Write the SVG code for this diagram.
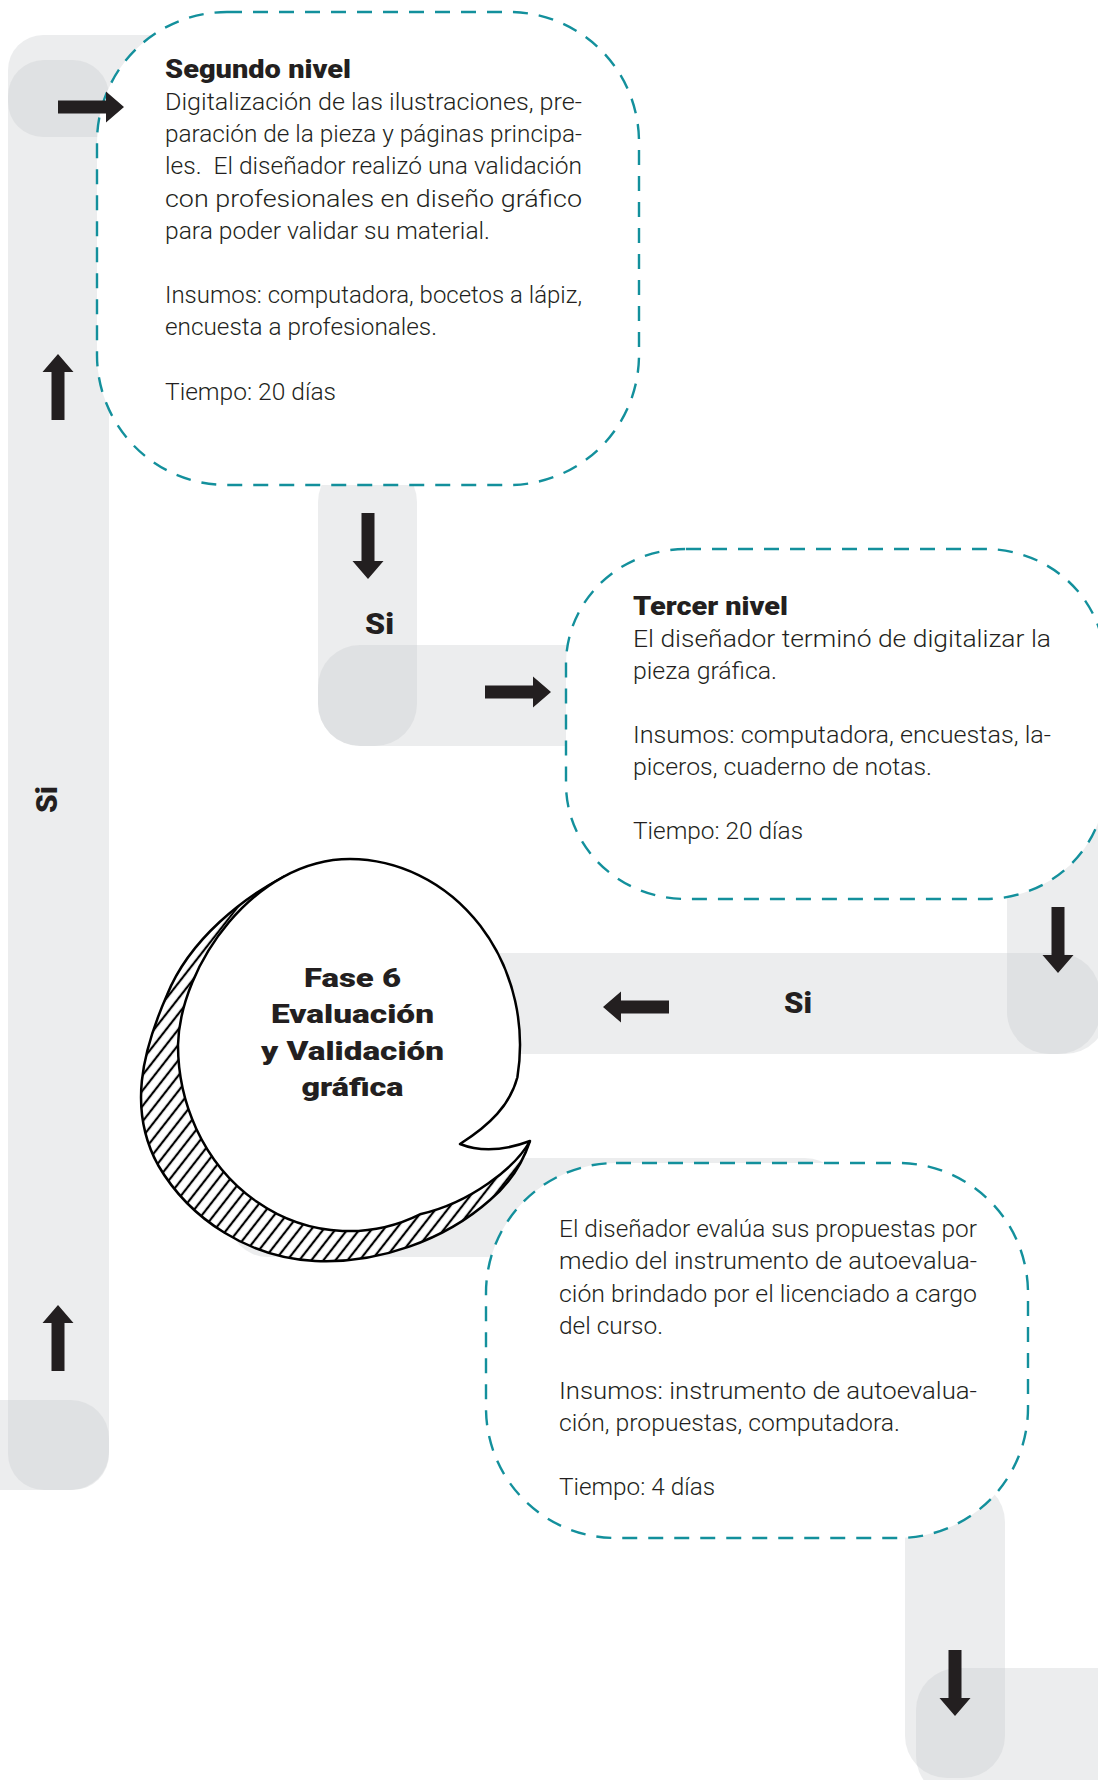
<svg xmlns="http://www.w3.org/2000/svg" width="1098" height="1780" viewBox="0 0 1098 1780">
<defs>
<style>
.bar{fill:rgb(201,202,205);fill-opacity:0.35}
.box{fill:#fff;stroke:#13909c;stroke-width:2.4;stroke-dasharray:15 11}
.t{font-family:Roboto,"Liberation Sans",Arial,sans-serif;font-weight:300;font-size:23.5px;fill:#231f20}
.h{font-family:Roboto,"Liberation Sans",Arial,sans-serif;font-weight:900;font-size:25px;fill:#231f20}
.si{font-family:Roboto,"Liberation Sans",Arial,sans-serif;font-weight:900;font-size:29px;fill:#231f20}
.ph{font-family:Roboto,"Liberation Sans",Arial,sans-serif;font-weight:900;font-size:26px;fill:#231f20;text-anchor:middle}
.arr{fill:#231f20}
.ol{fill:none;stroke:#000;stroke-width:2.5;stroke-linejoin:round}
</style>
<path id="arrow" d="M0,0 L-18,-15.5 L-18,-6.5 L-66,-6.5 L-66,6.5 L-18,6.5 L-18,15.5 Z"/>
<pattern id="hatch" patternUnits="userSpaceOnUse" width="9.5" height="9.5" patternTransform="rotate(38)">
<rect width="9.5" height="9.5" fill="#fff"/>
<line x1="4.75" y1="-1" x2="4.75" y2="10.5" stroke="#000" stroke-width="2.2"/>
</pattern>
</defs>
<rect width="1098" height="1780" fill="#fff"/>

<g id="connectors">
<rect class="bar" x="8" y="35" width="300" height="102" rx="35"/>
<rect class="bar" x="8" y="60" width="101" height="1430" rx="36"/>
<rect class="bar" x="-80" y="1400" width="189" height="90" rx="38"/>
<rect class="bar" x="318" y="460" width="99" height="286" rx="42"/>
<rect class="bar" x="318" y="645" width="300" height="101" rx="42"/>
<rect class="bar" x="1007" y="800" width="100" height="254" rx="42"/>
<rect class="bar" x="430" y="953" width="670" height="101" rx="42"/>
<rect class="bar" x="228" y="1158" width="617" height="99" rx="40"/>
<rect class="bar" x="905" y="1480" width="100" height="298" rx="42"/>
<rect class="bar" x="916" y="1668" width="250" height="130" rx="42"/>
</g>

<g id="segundo-nivel">
<rect class="box" x="97" y="12" width="542" height="473" rx="130"/>
<text class="h" x="165" y="78" textLength="186" lengthAdjust="spacingAndGlyphs">Segundo nivel</text>
<text class="t" x="165" y="110" textLength="417" lengthAdjust="spacingAndGlyphs">Digitalización de las ilustraciones, pre-</text>
<text class="t" x="165" y="142.2" textLength="417" lengthAdjust="spacingAndGlyphs">paración de la pieza y páginas principa-</text>
<text class="t" x="165" y="174.4" textLength="417" lengthAdjust="spacingAndGlyphs" xml:space="preserve">les.  El diseñador realizó una validación</text>
<text class="t" x="165" y="206.6" textLength="417" lengthAdjust="spacingAndGlyphs">con profesionales en diseño gráfico</text>
<text class="t" x="165" y="238.8" textLength="325" lengthAdjust="spacingAndGlyphs">para poder validar su material.</text>
<text class="t" x="165" y="303.2" textLength="417" lengthAdjust="spacingAndGlyphs">Insumos: computadora, bocetos a lápiz,</text>
<text class="t" x="165" y="335.4" textLength="272" lengthAdjust="spacingAndGlyphs">encuesta a profesionales.</text>
<text class="t" x="165" y="399.8" textLength="171" lengthAdjust="spacingAndGlyphs">Tiempo: 20 días</text>
</g>

<g id="tercer-nivel">
<rect class="box" x="566" y="549" width="539" height="350" rx="120" ry="115"/>
<text class="h" x="633" y="615" textLength="155" lengthAdjust="spacingAndGlyphs">Tercer nivel</text>
<text class="t" x="633" y="647" textLength="418" lengthAdjust="spacingAndGlyphs">El diseñador terminó de digitalizar la</text>
<text class="t" x="633" y="679" textLength="144" lengthAdjust="spacingAndGlyphs">pieza gráfica.</text>
<text class="t" x="633" y="743" textLength="418" lengthAdjust="spacingAndGlyphs">Insumos: computadora, encuestas, la-</text>
<text class="t" x="633" y="775" textLength="299" lengthAdjust="spacingAndGlyphs">piceros, cuaderno de notas.</text>
<text class="t" x="633" y="839" textLength="170" lengthAdjust="spacingAndGlyphs">Tiempo: 20 días</text>
</g>

<g id="fase-6">
<path d="M285,876 C245,897 190,938 167,995 C142,1052 128,1110 158,1165 C190,1220 250,1258 315,1261 C378,1264 445,1240 490,1200 C508,1185 522,1165 530,1141 Q490,1156 460,1144 L349,1045 Z" fill="url(#hatch)"/>
<path class="ol" d="M285,876 C245,897 190,938 167,995 C142,1052 128,1110 158,1165 C190,1220 250,1258 315,1261 C378,1264 445,1240 490,1200 C508,1185 522,1165 530,1141"/>
<path class="ol" style="fill:#fff" d="M178,1045 C180,965 255,859 350,859 A171 186 0 0 1 517.4,1077.3 C510,1105 490,1125 460,1144 Q490,1156 530,1141 C515,1168 470,1203 420,1214.3 A171 186 0 0 1 178,1045 Z"/>
<text class="ph" x="352.5" y="987" textLength="97" lengthAdjust="spacingAndGlyphs">Fase 6</text>
<text class="ph" x="352.5" y="1023" textLength="163" lengthAdjust="spacingAndGlyphs">Evaluación</text>
<text class="ph" x="352.5" y="1060" textLength="183" lengthAdjust="spacingAndGlyphs">y Validación</text>
<text class="ph" x="352.5" y="1096" textLength="102" lengthAdjust="spacingAndGlyphs">gráfica</text>
</g>

<g id="fase-6-detalle">
<rect class="box" x="486" y="1163" width="542" height="375" rx="130"/>
<text class="t" x="559" y="1237" textLength="418" lengthAdjust="spacingAndGlyphs">El diseñador evalúa sus propuestas por</text>
<text class="t" x="559" y="1269.3" textLength="418" lengthAdjust="spacingAndGlyphs">medio del instrumento de autoevalua-</text>
<text class="t" x="559" y="1301.6" textLength="418" lengthAdjust="spacingAndGlyphs">ción brindado por el licenciado a cargo</text>
<text class="t" x="559" y="1333.9" textLength="104" lengthAdjust="spacingAndGlyphs">del curso.</text>
<text class="t" x="559" y="1398.5" textLength="418" lengthAdjust="spacingAndGlyphs">Insumos: instrumento de autoevalua-</text>
<text class="t" x="559" y="1430.8" textLength="341" lengthAdjust="spacingAndGlyphs">ción, propuestas, computadora.</text>
<text class="t" x="559" y="1495.4" textLength="156" lengthAdjust="spacingAndGlyphs">Tiempo: 4 días</text>
</g>

<g id="arrows">
<use href="#arrow" class="arr" transform="translate(124,107)"/>
<use href="#arrow" class="arr" transform="translate(58,354) rotate(-90)"/>
<use href="#arrow" class="arr" transform="translate(58,1305) rotate(-90)"/>
<use href="#arrow" class="arr" transform="translate(368,579) rotate(90)"/>
<use href="#arrow" class="arr" transform="translate(551,692)"/>
<use href="#arrow" class="arr" transform="translate(1058,973) rotate(90)"/>
<use href="#arrow" class="arr" transform="translate(603,1007) rotate(180)"/>
<use href="#arrow" class="arr" transform="translate(955,1716) rotate(90)"/>
<text class="si" x="365" y="634" textLength="29" lengthAdjust="spacingAndGlyphs">Si</text>
<text class="si" x="784" y="1013" textLength="28" lengthAdjust="spacingAndGlyphs">Si</text>
<text class="si" transform="translate(57,813) rotate(-90)" textLength="27" lengthAdjust="spacingAndGlyphs">Si</text>
</g>
</svg>
